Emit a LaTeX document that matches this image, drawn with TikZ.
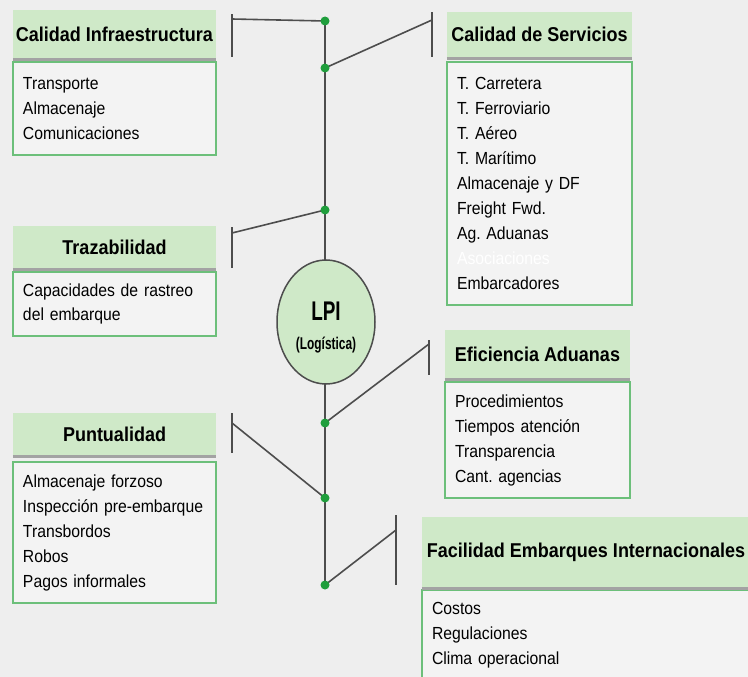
\documentclass[tikz,border=0pt]{standalone}
\usepackage{fontspec}
\setmainfont{Liberation Sans}[FakeStretch=0.9]
\newfontfamily\lpifont{Liberation Sans}[FakeStretch=0.7]
\usetikzlibrary{shapes.geometric}
\definecolor{bggray}{HTML}{EEEEEE}
\definecolor{hdrgreen}{HTML}{CFE9C8}
\definecolor{boxgreen}{HTML}{6CBF7A}
\definecolor{bodygray}{HTML}{F3F3F3}
\definecolor{dotgreen}{HTML}{1F9E3C}
\definecolor{linegray}{HTML}{4D4D4D}
\definecolor{shadegray}{HTML}{A3A3A3}
\frenchspacing

\begin{document}
\begin{tikzpicture}[x=1pt,y=-1pt]
\tikzstyle{hdr}=[fill=hdrgreen, inner sep=0pt, font=\bfseries\fontsize{20}{22}\selectfont]
\tikzstyle{body}=[draw=boxgreen, line width=1.2pt, fill=bodygray, inner xsep=10pt, inner ysep=0pt, align=left, font=\fontsize{17.5}{25}\selectfont]
\tikzstyle{dot}=[circle, fill=dotgreen, inner sep=0pt, minimum size=9pt]
\tikzstyle{link}=[draw=linegray, line width=1.6pt]
\tikzstyle{tick}=[fill=linegray, inner sep=0pt, minimum width=2.5pt]
\tikzstyle{shade}=[draw=shadegray, line width=3pt]

\fill[bggray] (0,0) rectangle (748,677);
\useasboundingbox (0,0) rectangle (748,677);

\foreach \y/\n in {21/d1, 68/d2, 210/d3, 423/d4, 498/d5, 585/d6}
  \coordinate (\n) at (325,\y);
\draw[link] (d1) -- (d6);

\coordinate (eInfra) at (232,19);
\coordinate (eTraz) at (232,233);
\coordinate (ePunt) at (232,423);
\coordinate (eServ) at (432,20);
\coordinate (eEfic) at (429,344);
\coordinate (eFac) at (396,530);
\draw[link] (eInfra) -- (d1);
\draw[link] (eTraz) -- (d3);
\draw[link] (ePunt) -- (d5);
\draw[link] (eServ) -- (d2);
\draw[link] (eEfic) -- (d4);
\draw[link] (eFac) -- (d6);

\node[ellipse, draw=linegray, line width=1.5pt, fill=hdrgreen, minimum width=98pt, minimum height=124pt, inner sep=0pt, align=center] (lpi) at (326,322) {};
\node[font=\lpifont\bfseries\fontsize{27}{28}\selectfont] (lpiName) at (326,311) {LPI};
\node[font=\lpifont\bfseries\fontsize{17}{18}\selectfont] (lpiSub) at (326,345) {(Logística)};

\foreach \n in {d1,d2,d3,d4,d5,d6}
  \node[dot] at (\n) {};

\node[tick, minimum height=43pt] (kInfra) at (232,35.5) {};
\node[tick, minimum height=41pt] (kTraz) at (232,247.5) {};
\node[tick, minimum height=40pt] (kPunt) at (232,433) {};
\node[tick, minimum height=45pt] (kServ) at (432,34.5) {};
\node[tick, minimum height=35pt] (kEfic) at (429,357.5) {};
\node[tick, minimum height=70pt] (kFac) at (396,550) {};

\node[hdr, minimum width=203pt, minimum height=48pt] (hInfra) at (114.5,34) {Calidad Infraestructura};
\node[body, text width=183pt, minimum height=93pt] (bInfra) at (114.5,108.5)
  {Transporte\\Almacenaje\\Comunicaciones};

\node[hdr, minimum width=203pt, minimum height=42pt] (hTraz) at (114.5,247) {Trazabilidad};
\node[body, text width=183pt, minimum height=64pt, font=\fontsize{17.5}{24}\selectfont] (bTraz) at (114.5,304)
  {Capacidades de rastreo\\del embarque};

\node[hdr, minimum width=203pt, minimum height=42pt] (hPunt) at (114.5,434) {Puntualidad};
\node[body, text width=183pt, minimum height=141pt] (bPunt) at (114.5,532.5)
  {Almacenaje forzoso\\Inspección pre-embarque\\Transbordos\\Robos\\Pagos informales};

\node[hdr, minimum width=185pt, minimum height=45pt] (hServ) at (539.5,34.5) {Calidad de Servicios};
\node[body, text width=165pt, minimum height=243pt] (bServ) at (539.5,183.5)
  {T. Carretera\\T. Ferroviario\\T. Aéreo\\T. Marítimo\\Almacenaje y DF\\Freight Fwd.\\Ag. Aduanas\\{\color{white}Asociaciones}\\Embarcadores};

\node[hdr, minimum width=185pt, minimum height=48pt] (hEfic) at (537.5,354) {Eficiencia Aduanas};
\node[body, text width=165pt, minimum height=116pt] (bEfic) at (537.5,440)
  {Procedimientos\\Tiempos atención\\Transparencia\\Cant. agencias};

\node[hdr, minimum width=328pt, minimum height=70pt] (hFac) at (586,552) {Facilidad Embarques Internacionales};
\node[body, text width=308pt, minimum height=90pt] (bFac) at (586,635)
  {Costos\\Regulaciones\\Clima operacional};

\foreach \h in {hInfra,hTraz,hPunt,hServ,hEfic,hFac}
  \draw[shade] ([yshift=-1.5pt]\h.south west) -- ([yshift=-1.5pt]\h.south east);

\end{tikzpicture}
\end{document}
